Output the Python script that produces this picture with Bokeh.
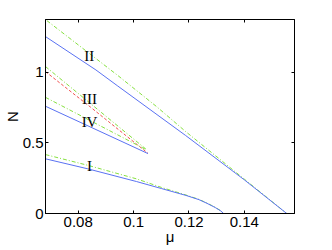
from bokeh.plotting import figure
from bokeh.models import LinearAxis, FixedTicker, Range1d
from bokeh.core.properties import value
from bokeh.embed import file_html
from bokeh.resources import INLINE

# ---- data ----
# branch I (solid blue = one branch, dash-dot green = companion)
mu_I = [0.0682, 0.0835, 0.1011, 0.110, 0.1189, 0.1236, 0.1265, 0.1295, 0.1315, 0.1325]
N_I_blue = [0.387, 0.316, 0.226, 0.177, 0.128, 0.098, 0.072, 0.042, 0.018, 0.0]
N_I_green = [0.417, 0.341, 0.245, 0.185, 0.131, 0.100, 0.074, 0.044, 0.019, 0.0]

# branch II
mu_II_blue = [0.0682, 0.0864, 0.0941, 0.1188, 0.140, 0.1553]
N_II_blue = [1.252, 1.016, 0.905, 0.552, 0.238, 0.0]
mu_II_green = [0.0687, 0.0941, 0.1084, 0.1188, 0.140, 0.1553]
N_II_green = [1.365, 0.980, 0.755, 0.580, 0.243, 0.0]

# branch III (red dashed, green dash-dot)
mu_III_red = [0.0682, 0.0845, 0.1052]
N_III_red = [1.004, 0.752, 0.426]
mu_III_green = [0.0682, 0.1045]
N_III_green = [1.040, 0.455]

# branch IV (blue solid, green dash-dot)
mu_IV_blue = [0.0682, 0.1052]
N_IV_blue = [0.759, 0.424]
mu_IV_green = [0.0682, 0.1045]
N_IV_green = [0.822, 0.452]

# curve labels
curve_labels = ["II", "III", "IV", "I"]
label_mu = [0.0840, 0.0841, 0.0841, 0.0841]
label_N = [1.117, 0.813, 0.651, 0.335]

# axes
x_ticks = [0.08, 0.1, 0.12, 0.14]
x_tick_labels = ["0.08", "0.1", "0.12", "0.14"]
y_ticks = [0, 0.5, 1]
y_tick_labels = ["0", "0.5", "1"]
x_label = "\u03bc"
y_label = "N"

BLUE = "#5a72f2"
GREEN = "#86e040"
RED = "#f05050"
FONT = "Liberation Sans"

p = figure(width=316, height=248,
           x_range=Range1d(0.0682, 0.1581), y_range=Range1d(0, 1.373),
           output_backend="svg", toolbar_location=None,
           min_border_left=39, min_border_right=22,
           min_border_top=19, min_border_bottom=35)

p.grid.visible = False
p.outline_line_color = "black"
p.outline_line_width = 1
p.background_fill_color = "white"
p.border_fill_color = "white"

# data lines
p.line(mu_II_green, N_II_green, line_color=GREEN, line_width=1, line_dash="4 2 1 2")
p.line(mu_II_blue, N_II_blue, line_color=BLUE, line_width=1)
p.line(mu_III_green, N_III_green, line_color=GREEN, line_width=1, line_dash="4 2 1 2")
p.line(mu_III_red, N_III_red, line_color=RED, line_width=1, line_dash="3 2")
p.line(mu_IV_green, N_IV_green, line_color=GREEN, line_width=1, line_dash="4 2 1 2")
p.line(mu_IV_blue, N_IV_blue, line_color=BLUE, line_width=1)
p.line(mu_I, N_I_green, line_color=GREEN, line_width=1, line_dash="4 2 1 2")
p.line(mu_I, N_I_blue, line_color=BLUE, line_width=1)

p.text(x=label_mu, y=label_N, text=curve_labels,
       text_font=value("Liberation Serif"), text_font_size="15px",
       text_align="center", text_baseline="middle", text_color="black")

xt = FixedTicker(ticks=x_ticks, minor_ticks=[])
yt = FixedTicker(ticks=y_ticks, minor_ticks=[])


def style_axis(ax, ticker, show_labels):
    ax.ticker = ticker
    ax.axis_line_color = "black"
    ax.major_tick_line_color = "black"
    ax.major_tick_in = 3
    ax.major_tick_out = 0
    ax.minor_tick_line_color = None
    if show_labels:
        ax.major_label_text_font = FONT
        ax.major_label_text_font_size = "15px"
        ax.major_label_text_color = "black"
        ax.axis_label_text_font = FONT
        ax.axis_label_text_font_size = "15px"
        ax.axis_label_text_font_style = "normal"
        ax.axis_label_text_color = "black"
    else:
        ax.major_label_text_font_size = "1px"
        ax.major_label_text_color = None
        ax.major_label_standoff = 0


xa = p.xaxis[0]
style_axis(xa, xt, True)
xa.major_label_overrides = {t: s for t, s in zip(x_ticks, x_tick_labels)}
xa.major_label_standoff = 3
xa.axis_label = x_label
xa.axis_label_standoff = -2

ya = p.yaxis[0]
style_axis(ya, yt, True)
ya.major_label_overrides = {t: s for t, s in zip(y_ticks, y_tick_labels)}
ya.major_label_standoff = 2
ya.axis_label = y_label
ya.axis_label_standoff = -1

top = LinearAxis()
style_axis(top, xt, False)
p.add_layout(top, "above")

right = LinearAxis()
style_axis(right, yt, False)
p.add_layout(right, "right")

open("out.html", "w").write(file_html(p, INLINE))
